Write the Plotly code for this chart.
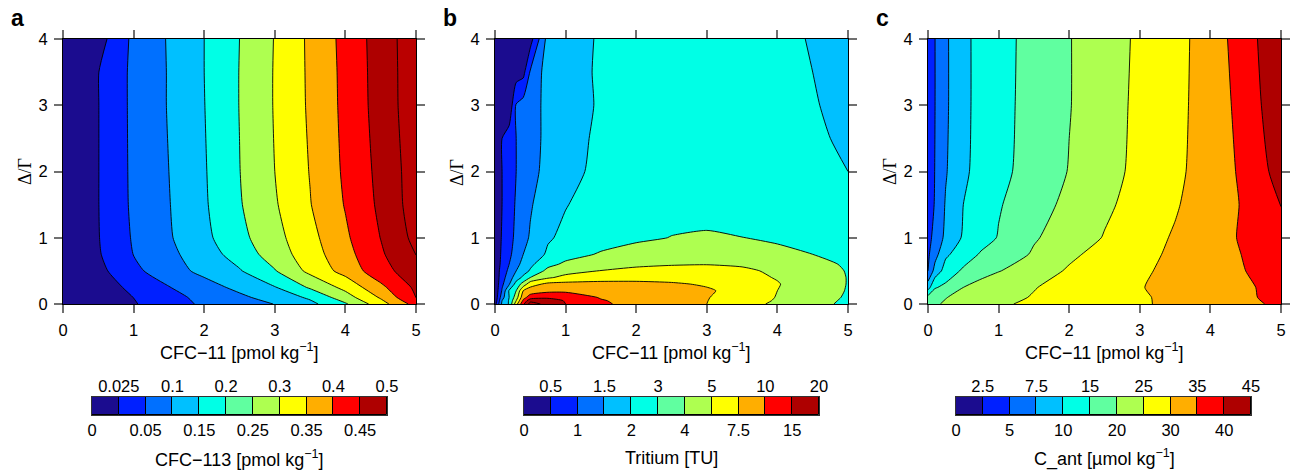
import numpy as np
import plotly.graph_objects as go

# ---------------------------------------------------------------------------
# Model grids: CFC-11 concentration (x) and Delta/Gamma ratio (y)
# ---------------------------------------------------------------------------
cfc11_a = [0, 0.5, 1, 1.5, 2, 2.5, 3, 3.5, 4, 4.5, 5]
ratio_a = [0, 0.1, 0.25, 0.5, 0.75, 1, 1.5, 2, 3, 3.5, 4]
cfc113 = [
    [0, 0.0116, 0.023, 0.0396, 0.058, 0.080, 0.101, 0.137, 0.194, 0.279, 0.370],
    [0, 0.0126, 0.0252, 0.042, 0.064, 0.090, 0.120, 0.158, 0.228, 0.306, 0.402],
    [0, 0.014, 0.030, 0.049, 0.080, 0.112, 0.147, 0.206, 0.264, 0.338, 0.410],
    [0, 0.018, 0.044, 0.079, 0.113, 0.146, 0.197, 0.263, 0.318, 0.381, 0.430],
    [0, 0.0227, 0.051, 0.088, 0.127, 0.171, 0.224, 0.277, 0.333, 0.393, 0.451],
    [0, 0.024, 0.055, 0.095, 0.138, 0.186, 0.234, 0.285, 0.342, 0.401, 0.464],
    [0, 0.0245, 0.059, 0.098, 0.144, 0.196, 0.245, 0.298, 0.353, 0.410, 0.474],
    [0, 0.0245, 0.060, 0.100, 0.146, 0.199, 0.250, 0.302, 0.358, 0.414, 0.475],
    [0, 0.0245, 0.061, 0.103, 0.149, 0.201, 0.253, 0.307, 0.362, 0.421, 0.480],
    [0, 0.0245, 0.061, 0.103, 0.150, 0.201, 0.253, 0.308, 0.363, 0.422, 0.480],
    [0, 0.015, 0.061, 0.104, 0.150, 0.200, 0.252, 0.309, 0.365, 0.423, 0.481],
]

cfc11_b = [0, 0.1, 0.2, 0.3, 0.4, 0.5, 0.75, 1, 1.5, 2, 2.5, 3, 3.5, 4, 4.5, 5]
ratio_b = [0, 0.05, 0.1, 0.2, 0.3, 0.4, 0.5, 0.6, 0.75, 1, 1.5, 2, 2.5, 3, 3.5, 4]
tritium = [
    [0.3, 1.6, 2.1, 4.6, 9.5, 17.0, 13.5, 10.0, 8.0, 6.5, 5.6, 5.0, 4.4, 3.8, 3.3, 2.8],
    [0.15, 1.5, 2.1, 4.0, 8.0, 13.5, 12.5, 9.8, 7.7, 6.6, 5.7, 5.05, 4.5, 3.9, 3.35, 2.85],
    [0.1, 1.3, 2.0, 3.5, 6.6, 8.6, 9.5, 9.2, 7.3, 6.5, 5.8, 5.1, 4.6, 3.95, 3.4, 2.9],
    [0.1, 1.05, 2.1, 3.0, 5.0, 6.2, 6.9, 7.0, 6.8, 6.3, 5.8, 5.3, 4.65, 4.0, 3.45, 2.95],
    [0.1, 0.9, 1.45, 2.4, 3.4, 4.6, 5.6, 5.7, 5.7, 5.55, 5.3, 4.9, 4.5, 4.05, 3.5, 2.97],
    [0.1, 0.8, 1.25, 1.75, 2.2, 3.0, 3.85, 4.3, 4.6, 4.7, 4.65, 4.5, 4.25, 3.95, 3.5, 2.97],
    [0.1, 0.75, 1.1, 1.5, 1.8, 2.1, 3.3, 3.6, 4.03, 4.2, 4.25, 4.25, 4.15, 3.85, 3.4, 2.95],
    [0.1, 0.65, 1.0, 1.35, 1.65, 1.9, 2.7, 3.2, 3.6, 3.85, 3.95, 3.98, 3.9, 3.65, 3.25, 2.9],
    [0.1, 0.6, 0.9, 1.2, 1.5, 1.7, 2.15, 2.6, 3.1, 3.35, 3.5, 3.55, 3.45, 3.25, 3.0, 2.8],
    [0.1, 0.55, 0.85, 1.1, 1.35, 1.55, 1.95, 2.2, 2.55, 2.85, 3.02, 3.08, 3.01, 2.85, 2.7, 2.6],
    [0.1, 0.5, 0.8, 1.05, 1.25, 1.45, 1.8, 1.98, 2.4, 2.6, 2.7, 2.72, 2.68, 2.55, 2.35, 2.2],
    [0.1, 0.5, 0.75, 1.0, 1.15, 1.35, 1.65, 1.85, 2.25, 2.5, 2.6, 2.6, 2.55, 2.4, 2.2, 2.0],
    [0.1, 0.5, 0.75, 1.0, 1.15, 1.35, 1.6, 1.8, 2.2, 2.45, 2.55, 2.55, 2.45, 2.3, 2.1, 1.95],
    [0.1, 0.1, 0.1, 1.05, 1.2, 1.35, 1.6, 1.8, 2.1, 2.4, 2.5, 2.5, 2.4, 2.25, 2.05, 1.9],
    [0.1, 0.15, 0.2, 0.25, 0.35, 1.05, 1.75, 1.85, 2.1, 2.35, 2.45, 2.45, 2.35, 2.2, 2.0, 1.88],
    [0.1, 0.15, 0.2, 0.25, 0.3, 0.3, 1.7, 1.8, 2.1, 2.3, 2.4, 2.4, 2.3, 2.15, 1.98, 1.85],
]

cfc11_c = [0, 0.1, 0.25, 0.5, 0.75, 1, 1.5, 2, 2.5, 3, 3.5, 4, 4.5, 5]
ratio_c = [0, 0.1, 0.25, 0.5, 0.75, 1, 1.5, 2, 3, 4]
c_ant = [
    [18.0, 19.4, 20.6, 22.0, 23.3, 24.4, 25.8, 27.0, 28.2, 29.5, 30.9, 32.4, 34.3, 35.6],
    [16.5, 18.3, 19.8, 21.6, 22.8, 23.6, 25.3, 26.6, 28.0, 29.5, 31.0, 32.6, 34.5, 36.0],
    [9.0, 14.6, 16.2, 20.0, 21.8, 23.0, 24.8, 26.6, 28.2, 29.8, 31.2, 32.7, 34.6, 36.0],
    [5.0, 8.5, 12.0, 15.8, 18.2, 19.8, 22.4, 25.6, 27.8, 29.2, 31.3, 33.2, 35.0, 37.5],
    [4.6, 6.6, 9.6, 12.4, 15.5, 17.2, 20.5, 24.0, 26.8, 28.7, 30.8, 33.0, 35.3, 38.0],
    [4.0, 6.0, 8.0, 10.6, 13.0, 15.3, 19.6, 22.0, 25.3, 28.3, 30.4, 33.0, 35.7, 38.5],
    [3.0, 5.3, 7.7, 10.0, 12.4, 14.6, 18.0, 21.2, 24.0, 27.1, 29.6, 32.4, 35.6, 40.1],
    [3.3, 5.1, 7.3, 9.6, 11.5, 13.7, 17.0, 20.2, 23.2, 26.3, 29.1, 32.0, 36.2, 42.0],
    [3.5, 5.0, 7.1, 9.5, 11.3, 13.5, 16.7, 19.8, 23.0, 26.0, 28.9, 31.8, 37.2, 43.5],
    [3.5, 5.0, 7.1, 9.5, 11.3, 13.4, 16.6, 19.8, 22.8, 25.8, 28.8, 31.7, 38.5, 43.0],
]

# Contour levels (non-uniform) shared by the panels and their colour keys
levels_cfc113 = [0, 0.025, 0.05, 0.1, 0.15, 0.2, 0.25, 0.3, 0.35, 0.4, 0.45, 0.5]
levels_tritium = [0, 0.5, 1, 1.5, 2, 3, 4, 5, 7.5, 10, 15, 20]
levels_cant = [0, 2.5, 5, 7.5, 10, 15, 20, 25, 30, 35, 40, 45]

key_titles = ["CFC\u2212113 [pmol kg<sup>\u22121</sup>]", "Tritium [TU]",
              "C_ant [\u00b5mol kg<sup>\u22121</sup>]"]
x_title = "CFC\u221211 [pmol kg<sup>\u22121</sup>]"
panel_tags = ["a", "b", "c"]

# ---------------------------------------------------------------------------
# Colours
# ---------------------------------------------------------------------------
NAVY, BLUE, MID, LIGHT = "#1B0C8F", "#0020FF", "#0070FF", "#00C0FF"
CYAN, SEA, YG, YEL = "#00FFE6", "#60FFA0", "#AEFF50", "#FFFF00"
ORA, RED, DRED, DRED2 = "#FFAE00", "#FF0000", "#AE0000", "#BA0000"
key_colors = [NAVY, BLUE, MID, LIGHT, CYAN, SEA, YG, YEL, ORA, RED, DRED]
fill_ab = [NAVY, BLUE, MID, LIGHT, CYAN, YG, YEL, ORA, RED, DRED, DRED2]
fill_c = key_colors

FONT = "Liberation Sans, Arial, Helvetica, sans-serif"
W, H = 1292, 474
TICK_SIZE = 16.5
TITLE_SIZE = 18


def px_x(p):
    return p / W


def px_y(p):
    return 1 - p / H


def stepped(colors):
    n = len(colors)
    scale = []
    for k, c in enumerate(colors):
        scale.append([k / n, c])
        scale.append([(k + 1) / n, c])
    return scale


def to_index(z, levels):
    return np.interp(np.asarray(z, float), levels, np.arange(len(levels)))


panels = [
    (cfc11_a, ratio_a, cfc113, levels_cfc113, fill_ab),
    (cfc11_b, ratio_b, tritium, levels_tritium, fill_ab),
    (cfc11_c, ratio_c, c_ant, levels_cant, fill_c),
]
plot_x = [(63, 416), (495, 848), (928, 1281)]
key_x = [(92, 387), (524, 819), (956, 1251)]
plot_y = (39, 304)
key_y = (397, 415)

fig = go.Figure()
layout = dict(
    width=W, height=H, margin=dict(l=0, r=0, t=0, b=0, autoexpand=False),
    paper_bgcolor="white", plot_bgcolor="white", showlegend=False,
    font=dict(family=FONT, size=TICK_SIZE, color="black"), bargap=0,
)
annotations = []

for i, (xs, ys, z, levels, fills) in enumerate(panels):
    n = i + 1
    sfx = "" if n == 1 else str(n)
    zi = to_index(z, levels)
    nlev = len(levels)
    fig.add_trace(go.Contour(
        x=xs, y=ys, z=zi, autocontour=False,
        contours=dict(start=1, end=nlev - 2, size=1, coloring="fill", showlines=True),
        colorscale=stepped(fills), showscale=False,
        line=dict(color="black", width=0.9, smoothing=0.6),
        xaxis="x" + sfx, yaxis="y" + sfx, hoverinfo="skip",
    ))
    common = dict(
        ticks="outside", ticklen=8, tickwidth=1.5, tickcolor="#707070",
        showline=True, linecolor="black", linewidth=1, mirror="ticks",
        showgrid=False, zeroline=False, automargin=False,
        tickfont=dict(size=TICK_SIZE), ticklabelstandoff=3,
    )
    layout["xaxis" + sfx] = dict(
        domain=[px_x(plot_x[i][0]), px_x(plot_x[i][1])], range=[0, 5],
        anchor="y" + sfx, tickvals=[0, 1, 2, 3, 4, 5], **common,
    )
    layout["yaxis" + sfx] = dict(
        domain=[px_y(plot_y[1]), px_y(plot_y[0])], range=[0, 4],
        anchor="x" + sfx, tickvals=[0, 1, 2, 3, 4], **common,
    )

    # colour key below each panel
    kx, ky = "x" + str(n + 3), "y" + str(n + 3)
    nb = nlev - 1
    fig.add_trace(go.Bar(
        x=[k + 0.5 for k in range(nb)], y=[1] * nb, width=1,
        marker=dict(color=key_colors, line=dict(color="black", width=1)),
        xaxis=kx, yaxis=ky, hoverinfo="skip",
    ))
    labels = [f"{v:g}" for v in levels]
    layout["xaxis" + str(n + 3)] = dict(
        domain=[px_x(key_x[i][0]), px_x(key_x[i][1])], range=[0, nb],
        anchor=ky, tickvals=list(range(0, nlev, 2)), ticktext=labels[0::2],
        ticks="", showline=True, linecolor="#333333", linewidth=1.2,
        mirror=True, showgrid=False, zeroline=False, automargin=False,
        tickfont=dict(size=TICK_SIZE), ticklabelstandoff=0,
    )
    layout["yaxis" + str(n + 3)] = dict(
        domain=[px_y(key_y[1]), px_y(key_y[0])], range=[0, 1], anchor=kx,
        showticklabels=False, ticks="", showgrid=False, zeroline=False,
        showline=True, linecolor="#333333", linewidth=1.2, mirror=True,
        automargin=False,
    )
    layout["xaxis" + str(n + 6)] = dict(
        overlaying=kx, side="top", anchor=ky, range=[0, nb],
        tickvals=list(range(1, nlev, 2)), ticktext=labels[1::2], ticks="",
        showgrid=False, zeroline=False, showline=False, automargin=False,
        tickfont=dict(size=TICK_SIZE), ticklabelstandoff=1,
    )
    fig.add_trace(go.Scatter(x=[None], y=[None], xaxis="x" + str(n + 6),
                             yaxis=ky, showlegend=False, hoverinfo="skip"))

    cx = (plot_x[i][0] + plot_x[i][1]) / 2
    annotations.append(dict(
        x=px_x(cx), y=px_y(351), xref="paper", yref="paper", text=x_title,
        showarrow=False, xanchor="center", yanchor="middle",
        font=dict(size=TITLE_SIZE)))
    annotations.append(dict(
        x=px_x(cx), y=px_y(458), xref="paper", yref="paper", text=key_titles[i],
        showarrow=False, xanchor="center", yanchor="middle",
        font=dict(size=TITLE_SIZE)))
    annotations.append(dict(
        x=px_x(plot_x[i][0] - 38), y=px_y(172), xref="paper", yref="paper",
        text="\u0394/\u0393", textangle=-90, showarrow=False,
        xanchor="center", yanchor="middle",
        font=dict(family="Liberation Serif, DejaVu Serif, serif", size=18)))
    annotations.append(dict(
        x=px_x(plot_x[i][0] - 54), y=px_y(18), xref="paper", yref="paper",
        text="<b>" + panel_tags[i] + "</b>", showarrow=False,
        xanchor="left", yanchor="middle", font=dict(size=23)))

layout["annotations"] = annotations
fig.update_layout(**layout)
fig.write_html("out.html")
